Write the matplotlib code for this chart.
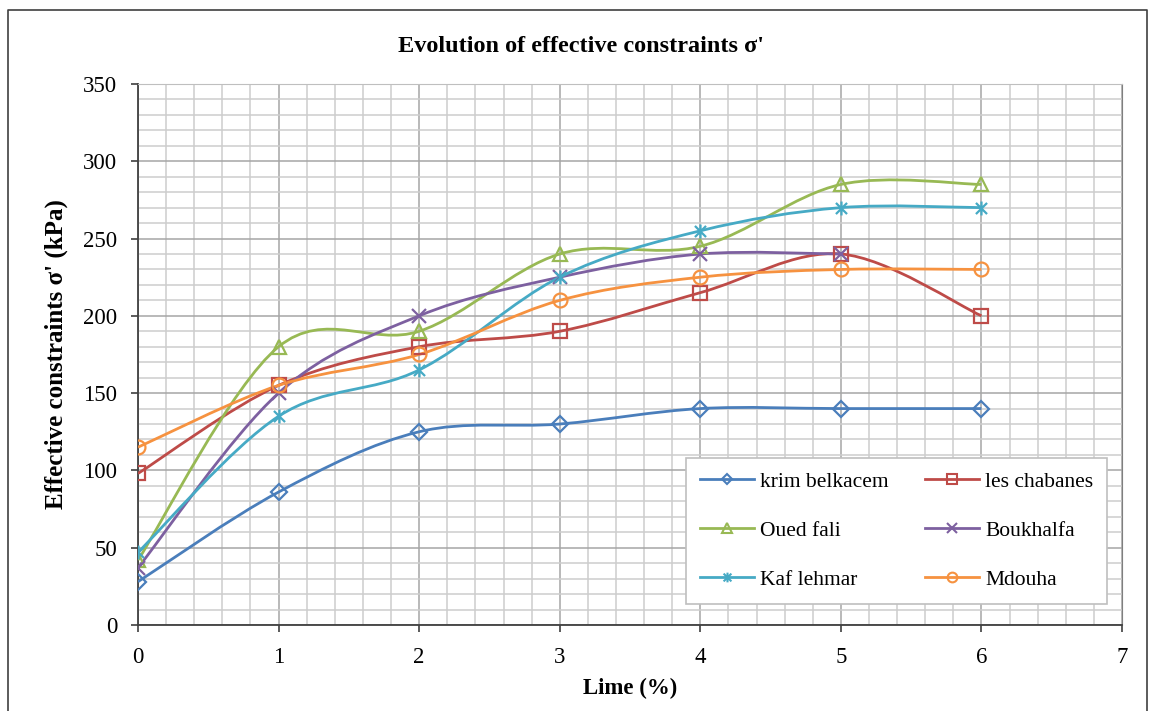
import numpy as np
import matplotlib.pyplot as plt
from matplotlib.path import Path
from matplotlib.patches import PathPatch
from matplotlib.lines import Line2D
from matplotlib.ticker import MultipleLocator

plt.rcParams['font.family'] = ['Liberation Serif', 'DejaVu Serif']

# data (lime %, effective constraint in kPa)
lime = [0, 1, 2, 3, 4, 5, 6]
krim_belkacem = [28, 86, 125, 130, 140, 140, 140]
les_chabanes = [98, 155, 180, 190, 215, 240, 200]
oued_fali = [42, 180, 190, 240, 245, 285, 285]
boukhalfa = [37, 150, 200, 225, 240, 240]          # no point at 6 %
kaf_lehmar = [47, 135, 165, 225, 255, 270, 270]
mdouha = [115, 155, 175, 210, 225, 230, 230]

names = ['krim belkacem', 'les chabanes', 'Oued fali', 'Boukhalfa', 'Kaf lehmar', 'Mdouha']
values = [krim_belkacem, les_chabanes, oued_fali, boukhalfa, kaf_lehmar, mdouha]
colors = ['#4A7EBB', '#BE4B48', '#98B954', '#7D60A0', '#46AAC5', '#F69240']

# Excel "star" marker: an x with a vertical bar
star = Path([(-1, -1), (1, 1), (-1, 1), (1, -1), (0, -1.25), (0, 1.25)],
            [Path.MOVETO, Path.LINETO, Path.MOVETO, Path.LINETO, Path.MOVETO, Path.LINETO])
markers = ['D', 's', '^', 'x', star, 'o']
msizes = [8, 10, 10, 10, 10, 10]


def smooth_path(x, y):
    """Catmull-Rom style bezier through the points (like Excel smoothed lines)"""
    x = np.asarray(x, float)
    y = np.asarray(y, float)
    n = len(x)
    verts = [(x[0], y[0])]
    codes = [Path.MOVETO]
    for i in range(n - 1):
        i0 = max(i - 1, 0)
        i3 = min(i + 2, n - 1)
        c1 = (x[i] + (x[i + 1] - x[i0]) / 6, y[i] + (y[i + 1] - y[i0]) / 6)
        c2 = (x[i + 1] - (x[i3] - x[i]) / 6, y[i + 1] - (y[i3] - y[i]) / 6)
        verts += [c1, c2, (x[i + 1], y[i + 1])]
        codes += [Path.CURVE4] * 3
    return Path(verts, codes)


fig = plt.figure(figsize=(11.5, 7.11), dpi=100)
ax = fig.add_axes([0.12, 0.121, 0.8557, 0.7609])

handles = []
for name, vals, c, m, ms in zip(names, values, colors, markers, msizes):
    xs = lime[:len(vals)]
    ax.add_patch(PathPatch(smooth_path(xs, vals), fill=False, ec=c, lw=2.0, zorder=3))
    ax.plot(xs, vals, ls='none', marker=m, ms=ms, mfc='none', mec=c, mew=1.6, zorder=4)
    handles.append(Line2D([], [], color=c, lw=2.0, marker=m, ms=ms * 0.7,
                          mfc='none', mec=c, mew=1.5, label=name))

ax.set_xlim(0, 7)
ax.set_ylim(0, 350)
ax.xaxis.set_major_locator(MultipleLocator(1))
ax.xaxis.set_minor_locator(MultipleLocator(0.2))
ax.yaxis.set_major_locator(MultipleLocator(50))
ax.yaxis.set_minor_locator(MultipleLocator(10))
ax.grid(which='major', color='#A6A6A6', lw=1.1, zorder=0)
ax.grid(which='minor', color='#CDCDCD', lw=1.1, zorder=0)
ax.set_axisbelow(True)
ax.tick_params(which='major', direction='out', length=5, width=1.2, color='#404040',
               labelsize=16.5)
ax.tick_params(axis='y', pad=10)
ax.tick_params(axis='x', pad=11)
ax.tick_params(which='minor', length=0)
for s in ['left', 'bottom']:
    ax.spines[s].set_color('#404040')
    ax.spines[s].set_linewidth(1.3)
ax.spines['top'].set_color('#BFBFBF')
ax.spines['right'].set_color('#7F7F7F')

ax.set_xlabel('Lime (%)', fontsize=16.5, fontweight='bold', labelpad=7)
ax.set_ylabel("Effective constraints σ' (kPa)", fontsize=18, fontweight='bold', labelpad=11)
fig.text(0.505, 0.934, "Evolution of effective constraints σ'", ha='center', va='center',
         fontsize=17.5, fontweight='bold')

order = [0, 2, 4, 1, 3, 5]
leg = ax.legend([handles[i] for i in order], [names[i] for i in order], ncol=2,
                loc='lower left', bbox_to_anchor=(0.557, 0.039, 0.428, 0.275), mode='expand',
                fontsize=15.5, frameon=True, fancybox=False, framealpha=1, edgecolor='#BFBFBF',
                handlelength=2.5, handletextpad=0.3, labelspacing=1.35, columnspacing=1.2,
                borderpad=0.65, borderaxespad=0)
leg.get_frame().set_linewidth(1.2)

# outer chart frame
fig.add_artist(Line2D([0.007, 0.007, 0.997, 0.997], [0.0, 0.986, 0.986, 0.0],
                      color='#404040', lw=1.2))

fig.savefig('out.png', dpi=100)
